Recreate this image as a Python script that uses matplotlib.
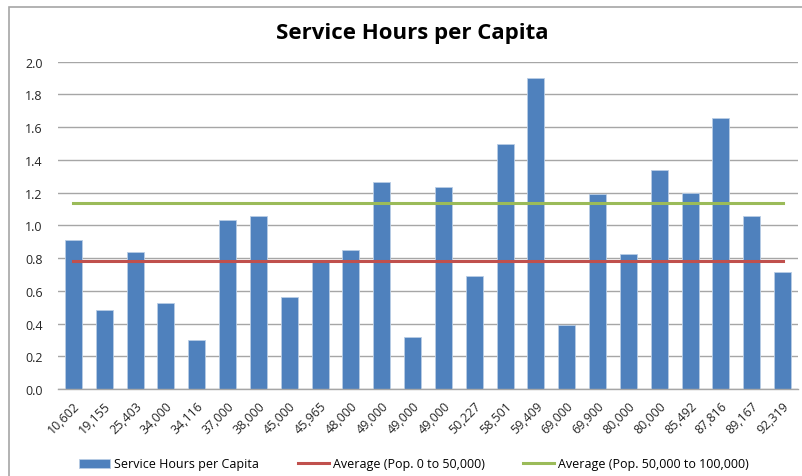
import matplotlib
matplotlib.use("Agg")
import matplotlib.pyplot as plt
from matplotlib.patches import Rectangle

plt.rcParams['font.family'] = ['Open Sans', 'DejaVu Sans']

populations = ["10,602", "19,155", "25,403", "34,000", "34,116", "37,000", "38,000",
               "45,000", "45,965", "48,000", "49,000", "49,000", "49,000", "50,227",
               "58,501", "59,409", "69,000", "69,900", "80,000", "80,000", "85,492",
               "87,816", "89,167", "92,319"]
hours_per_capita = [0.91, 0.485, 0.84, 0.525, 0.30, 1.03, 1.055, 0.56, 0.775, 0.847,
                    1.263, 0.318, 1.234, 0.692, 1.50, 1.90, 0.389, 1.19, 0.823, 1.34,
                    1.20, 1.656, 1.055, 0.715]
avg_small = 0.78
avg_large = 1.136
y_ticks = [0.0, 0.2, 0.4, 0.6, 0.8, 1.0, 1.2, 1.4, 1.6, 1.8, 2.0]

fig = plt.figure(figsize=(8.03, 4.77), dpi=100)
ax = fig.add_axes([58/803, 1-390/477, 740/803, (390-62.7)/477])

x = list(range(len(populations)))
bars = ax.bar(x, hours_per_capita, width=0.55, color="#4F81BD", edgecolor="#B9CDE5",
              linewidth=0.6, label="Service Hours per Capita", zorder=2)
l1, = ax.plot(x, [avg_small]*len(x), color="#C0504D", lw=2.2, label="Average (Pop. 0 to 50,000)", zorder=3)
l2, = ax.plot(x, [avg_large]*len(x), color="#9BBB59", lw=2.2, label="Average (Pop. 50,000 to 100,000)", zorder=3)

ax.set_xlim(-0.5, len(x)-0.5)
ax.set_ylim(0, 2.0)
ax.set_yticks(y_ticks)
ax.set_yticklabels([f"{v:.1f}" for v in y_ticks], fontsize=9, color="#262626")
ax.yaxis.grid(True, color="#A6A6A6", lw=1.0, zorder=0)
ax.set_axisbelow(True)
ax.tick_params(axis='y', length=0, pad=11)
ax.set_xticks(x)
ax.set_xticklabels(populations, rotation=45, ha='right', rotation_mode='anchor',
                   fontsize=9, color="#262626")
ax.tick_params(axis='x', length=0, pad=7)
for s in ['left', 'top', 'right']:
    ax.spines[s].set_visible(False)
ax.spines['bottom'].set_color("#A6A6A6")
ax.spines['bottom'].set_linewidth(1.0)

fig.text(412/803, 1-33/477, "Service Hours per Capita", ha='center', va='center',
         fontsize=16, fontweight='bold', color="black")

fig.legend(handles=[bars, l1, l2], loc='center', bbox_to_anchor=(414/803, 1-465/477),
           ncol=3, frameon=False, fontsize=9, handlelength=2.5, handletextpad=0.3,
           columnspacing=3.1)

fig.patches.append(Rectangle((9/803, -0.1), 1.2, 1-8/477+0.1, transform=fig.transFigure,
                             fill=False, edgecolor="#A6A6A6", lw=1.2))

fig.savefig("out.png", dpi=100)
